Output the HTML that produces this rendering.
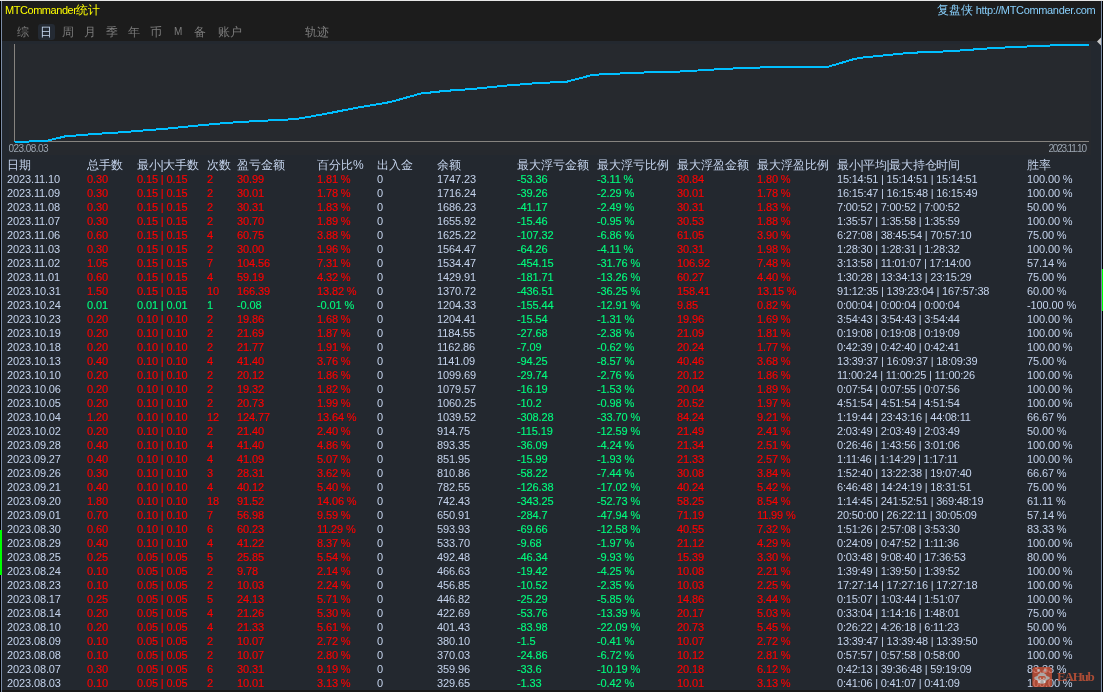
<!DOCTYPE html>
<html><head><meta charset="utf-8"><style>
html,body{margin:0;padding:0;}
body{width:1103px;height:692px;position:relative;overflow:hidden;background:#1b1b1b;font-family:"Liberation Sans",sans-serif;will-change:transform;}
.abs{position:absolute;}
.c{position:absolute;font-size:11px;line-height:14px;white-space:pre;letter-spacing:-0.12px;}
.s{-webkit-text-stroke-width:0.15px}
.t{letter-spacing:-0.2px}
.h{position:absolute;font-size:12px;line-height:14px;white-space:pre;color:#c4d3ec;}
.tab{position:absolute;top:24px;font-size:12px;line-height:16px;color:#7c7c7c;white-space:pre;}
</style></head><body>
<div class="abs" style="left:0;top:0;width:1103px;height:1px;background:#e6e6e6"></div>
<div class="abs" style="left:0;top:1px;width:1px;height:691px;background:#000"></div>
<div class="abs" style="left:1102px;top:1px;width:1px;height:691px;background:#000"></div>
<div class="abs" style="left:1px;top:1px;width:1px;height:691px;background:#7b8ca6"></div>
<div class="abs" style="left:1101px;top:1px;width:1px;height:691px;background:#7b8ca6"></div>
<div class="abs" style="left:2px;top:1px;width:1099px;height:40px;background:#1c1c1c"></div>
<div class="abs" style="left:2px;top:41px;width:1099px;height:649px;background:#23282f"></div>
<div class="abs" style="left:9px;top:44px;width:1082px;height:111px;background:#26292e"></div>
<div class="abs" style="left:2px;top:690px;width:1099px;height:2px;background:#1a1a1a"></div>
<div class="c" style="left:5px;top:3px;color:#ffff00;letter-spacing:-0.45px">MTCommander<span style="font-size:12px;letter-spacing:-0.3px">统计</span></div>
<div class="c" style="left:937px;top:3px;color:#87cefa;font-size:11px;letter-spacing:-0.34px"><span style="font-size:12px;letter-spacing:0">复盘侠</span> http://MTCommander.com</div>
<div class="abs" style="left:38px;top:24px;width:17px;height:16px;background:#242a33;border-radius:3px"></div>
<div class="tab" style="left:17px">综</div>
<div class="tab" style="left:40px;color:#c6d8f0">日</div>
<div class="tab" style="left:62px">周</div>
<div class="tab" style="left:84px">月</div>
<div class="tab" style="left:106px">季</div>
<div class="tab" style="left:128px">年</div>
<div class="tab" style="left:150px">币</div>
<div class="tab" style="left:174px;font-size:10px">M</div>
<div class="tab" style="left:194px">备</div>
<div class="tab" style="left:218px">账户</div>
<div class="tab" style="left:305px">轨迹</div>
<svg class="abs" style="left:0;top:0" width="1103" height="160" viewBox="0 0 1103 160">
<line x1="14.5" y1="44" x2="14.5" y2="141" stroke="#86837f" stroke-width="1"/>
<line x1="14" y1="141.5" x2="1089" y2="141.5" stroke="#86837f" stroke-width="1"/>
<polyline points="14.5,142 29,141.5 47,140.8 65,136.4 94,134 117,132.6 142,130.6 165,128.8 195,125.8 226,123 261,120.7 280.4,120.2 300.8,118.3 328,113.4 355.2,108 390.5,102 420.5,93.6 445,90.9 472,89 504.8,85.7 532,83.5 567.2,81.6 593,74.8 610.7,74 638,72.6 667.8,72.1 689.6,71 725,68.8 754.8,67.7 783.4,66.7 828.3,66.7 855,58.8 863,57.5 910,52.8 951,51.2 992.3,48.1 1044.5,45.7 1074.7,44.6 1089,44.6" fill="none" stroke="#00bfff" stroke-width="2" shape-rendering="crispEdges"/>
<polygon points="1097,41.5 1101,37.5 1101,45.5" fill="#c8c8c8"/>
</svg>
<div class="abs" style="left:9px;top:142px;width:100px;height:13px;overflow:hidden"><div class="c" style="left:-5.5px;top:0;font-size:10px;line-height:13px;letter-spacing:-0.55px;color:#9aa4b0">2023.08.03</div></div>
<div class="c" style="left:1048.5px;top:142px;font-size:10px;line-height:13px;letter-spacing:-1.2px;color:#9aa4b0">2023.11.10</div>
<div class="abs" style="left:0;top:530px;width:2px;height:45px;background:#00ff00"></div>
<div class="abs" style="left:1102px;top:269px;width:1px;height:42px;background:#00ff00"></div>

<div class="h" style="left:7px;top:158px">日期</div><div class="h" style="left:87px;top:158px">总手数</div><div class="h" style="left:137px;top:158px;letter-spacing:-0.3px">最小|大手数</div><div class="h" style="left:207px;top:158px">次数</div><div class="h" style="left:237px;top:158px">盈亏金额</div><div class="h" style="left:317px;top:158px">百分比%</div><div class="h" style="left:377px;top:158px">出入金</div><div class="h" style="left:437px;top:158px">余额</div><div class="h" style="left:517px;top:158px">最大浮亏金额</div><div class="h" style="left:597px;top:158px">最大浮亏比例</div><div class="h" style="left:677px;top:158px">最大浮盈金额</div><div class="h" style="left:757px;top:158px">最大浮盈比例</div><div class="h" style="left:837px;top:158px;letter-spacing:-0.3px">最小|平均|最大持仓时间</div><div class="h" style="left:1027px;top:158px">胜率</div><div class="c" style="left:7px;top:172px;color:#c4d3ec">2023.11.10</div><div class="c s" style="left:87px;top:172px;color:#ff0000">0.30</div><div class="c s" style="left:137px;top:172px;color:#ff0000">0.15 | 0.15</div><div class="c s" style="left:207px;top:172px;color:#ff0000">2</div><div class="c s" style="left:237px;top:172px;color:#ff0000">30.99</div><div class="c s" style="left:317px;top:172px;color:#ff0000">1.81 %</div><div class="c" style="left:377px;top:172px;color:#c4d3ec">0</div><div class="c" style="left:437px;top:172px;color:#c4d3ec">1747.23</div><div class="c s" style="left:517px;top:172px;color:#00fa7d">-53.36</div><div class="c s" style="left:597px;top:172px;color:#00fa7d">-3.11 %</div><div class="c s" style="left:677px;top:172px;color:#ff0000">30.84</div><div class="c s" style="left:757px;top:172px;color:#ff0000">1.80 %</div><div class="c t" style="left:837px;top:172px;color:#c4d3ec">15:14:51 | 15:14:51 | 15:14:51</div><div class="c" style="left:1027px;top:172px;color:#c4d3ec">100.00 %</div><div class="c" style="left:7px;top:186px;color:#c4d3ec">2023.11.09</div><div class="c s" style="left:87px;top:186px;color:#ff0000">0.30</div><div class="c s" style="left:137px;top:186px;color:#ff0000">0.15 | 0.15</div><div class="c s" style="left:207px;top:186px;color:#ff0000">2</div><div class="c s" style="left:237px;top:186px;color:#ff0000">30.01</div><div class="c s" style="left:317px;top:186px;color:#ff0000">1.78 %</div><div class="c" style="left:377px;top:186px;color:#c4d3ec">0</div><div class="c" style="left:437px;top:186px;color:#c4d3ec">1716.24</div><div class="c s" style="left:517px;top:186px;color:#00fa7d">-39.26</div><div class="c s" style="left:597px;top:186px;color:#00fa7d">-2.29 %</div><div class="c s" style="left:677px;top:186px;color:#ff0000">30.01</div><div class="c s" style="left:757px;top:186px;color:#ff0000">1.78 %</div><div class="c t" style="left:837px;top:186px;color:#c4d3ec">16:15:47 | 16:15:48 | 16:15:49</div><div class="c" style="left:1027px;top:186px;color:#c4d3ec">100.00 %</div><div class="c" style="left:7px;top:200px;color:#c4d3ec">2023.11.08</div><div class="c s" style="left:87px;top:200px;color:#ff0000">0.30</div><div class="c s" style="left:137px;top:200px;color:#ff0000">0.15 | 0.15</div><div class="c s" style="left:207px;top:200px;color:#ff0000">2</div><div class="c s" style="left:237px;top:200px;color:#ff0000">30.31</div><div class="c s" style="left:317px;top:200px;color:#ff0000">1.83 %</div><div class="c" style="left:377px;top:200px;color:#c4d3ec">0</div><div class="c" style="left:437px;top:200px;color:#c4d3ec">1686.23</div><div class="c s" style="left:517px;top:200px;color:#00fa7d">-41.17</div><div class="c s" style="left:597px;top:200px;color:#00fa7d">-2.49 %</div><div class="c s" style="left:677px;top:200px;color:#ff0000">30.31</div><div class="c s" style="left:757px;top:200px;color:#ff0000">1.83 %</div><div class="c t" style="left:837px;top:200px;color:#c4d3ec">7:00:52 | 7:00:52 | 7:00:52</div><div class="c" style="left:1027px;top:200px;color:#c4d3ec">50.00 %</div><div class="c" style="left:7px;top:214px;color:#c4d3ec">2023.11.07</div><div class="c s" style="left:87px;top:214px;color:#ff0000">0.30</div><div class="c s" style="left:137px;top:214px;color:#ff0000">0.15 | 0.15</div><div class="c s" style="left:207px;top:214px;color:#ff0000">2</div><div class="c s" style="left:237px;top:214px;color:#ff0000">30.70</div><div class="c s" style="left:317px;top:214px;color:#ff0000">1.89 %</div><div class="c" style="left:377px;top:214px;color:#c4d3ec">0</div><div class="c" style="left:437px;top:214px;color:#c4d3ec">1655.92</div><div class="c s" style="left:517px;top:214px;color:#00fa7d">-15.46</div><div class="c s" style="left:597px;top:214px;color:#00fa7d">-0.95 %</div><div class="c s" style="left:677px;top:214px;color:#ff0000">30.53</div><div class="c s" style="left:757px;top:214px;color:#ff0000">1.88 %</div><div class="c t" style="left:837px;top:214px;color:#c4d3ec">1:35:57 | 1:35:58 | 1:35:59</div><div class="c" style="left:1027px;top:214px;color:#c4d3ec">100.00 %</div><div class="c" style="left:7px;top:228px;color:#c4d3ec">2023.11.06</div><div class="c s" style="left:87px;top:228px;color:#ff0000">0.60</div><div class="c s" style="left:137px;top:228px;color:#ff0000">0.15 | 0.15</div><div class="c s" style="left:207px;top:228px;color:#ff0000">4</div><div class="c s" style="left:237px;top:228px;color:#ff0000">60.75</div><div class="c s" style="left:317px;top:228px;color:#ff0000">3.88 %</div><div class="c" style="left:377px;top:228px;color:#c4d3ec">0</div><div class="c" style="left:437px;top:228px;color:#c4d3ec">1625.22</div><div class="c s" style="left:517px;top:228px;color:#00fa7d">-107.32</div><div class="c s" style="left:597px;top:228px;color:#00fa7d">-6.86 %</div><div class="c s" style="left:677px;top:228px;color:#ff0000">61.05</div><div class="c s" style="left:757px;top:228px;color:#ff0000">3.90 %</div><div class="c t" style="left:837px;top:228px;color:#c4d3ec">6:27:08 | 38:45:54 | 70:57:10</div><div class="c" style="left:1027px;top:228px;color:#c4d3ec">75.00 %</div><div class="c" style="left:7px;top:242px;color:#c4d3ec">2023.11.03</div><div class="c s" style="left:87px;top:242px;color:#ff0000">0.30</div><div class="c s" style="left:137px;top:242px;color:#ff0000">0.15 | 0.15</div><div class="c s" style="left:207px;top:242px;color:#ff0000">2</div><div class="c s" style="left:237px;top:242px;color:#ff0000">30.00</div><div class="c s" style="left:317px;top:242px;color:#ff0000">1.96 %</div><div class="c" style="left:377px;top:242px;color:#c4d3ec">0</div><div class="c" style="left:437px;top:242px;color:#c4d3ec">1564.47</div><div class="c s" style="left:517px;top:242px;color:#00fa7d">-64.26</div><div class="c s" style="left:597px;top:242px;color:#00fa7d">-4.11 %</div><div class="c s" style="left:677px;top:242px;color:#ff0000">30.31</div><div class="c s" style="left:757px;top:242px;color:#ff0000">1.98 %</div><div class="c t" style="left:837px;top:242px;color:#c4d3ec">1:28:30 | 1:28:31 | 1:28:32</div><div class="c" style="left:1027px;top:242px;color:#c4d3ec">100.00 %</div><div class="c" style="left:7px;top:256px;color:#c4d3ec">2023.11.02</div><div class="c s" style="left:87px;top:256px;color:#ff0000">1.05</div><div class="c s" style="left:137px;top:256px;color:#ff0000">0.15 | 0.15</div><div class="c s" style="left:207px;top:256px;color:#ff0000">7</div><div class="c s" style="left:237px;top:256px;color:#ff0000">104.56</div><div class="c s" style="left:317px;top:256px;color:#ff0000">7.31 %</div><div class="c" style="left:377px;top:256px;color:#c4d3ec">0</div><div class="c" style="left:437px;top:256px;color:#c4d3ec">1534.47</div><div class="c s" style="left:517px;top:256px;color:#00fa7d">-454.15</div><div class="c s" style="left:597px;top:256px;color:#00fa7d">-31.76 %</div><div class="c s" style="left:677px;top:256px;color:#ff0000">106.92</div><div class="c s" style="left:757px;top:256px;color:#ff0000">7.48 %</div><div class="c t" style="left:837px;top:256px;color:#c4d3ec">3:13:58 | 11:01:07 | 17:14:00</div><div class="c" style="left:1027px;top:256px;color:#c4d3ec">57.14 %</div><div class="c" style="left:7px;top:270px;color:#c4d3ec">2023.11.01</div><div class="c s" style="left:87px;top:270px;color:#ff0000">0.60</div><div class="c s" style="left:137px;top:270px;color:#ff0000">0.15 | 0.15</div><div class="c s" style="left:207px;top:270px;color:#ff0000">4</div><div class="c s" style="left:237px;top:270px;color:#ff0000">59.19</div><div class="c s" style="left:317px;top:270px;color:#ff0000">4.32 %</div><div class="c" style="left:377px;top:270px;color:#c4d3ec">0</div><div class="c" style="left:437px;top:270px;color:#c4d3ec">1429.91</div><div class="c s" style="left:517px;top:270px;color:#00fa7d">-181.71</div><div class="c s" style="left:597px;top:270px;color:#00fa7d">-13.26 %</div><div class="c s" style="left:677px;top:270px;color:#ff0000">60.27</div><div class="c s" style="left:757px;top:270px;color:#ff0000">4.40 %</div><div class="c t" style="left:837px;top:270px;color:#c4d3ec">1:30:28 | 13:34:13 | 23:15:29</div><div class="c" style="left:1027px;top:270px;color:#c4d3ec">75.00 %</div><div class="c" style="left:7px;top:284px;color:#c4d3ec">2023.10.31</div><div class="c s" style="left:87px;top:284px;color:#ff0000">1.50</div><div class="c s" style="left:137px;top:284px;color:#ff0000">0.15 | 0.15</div><div class="c s" style="left:207px;top:284px;color:#ff0000">10</div><div class="c s" style="left:237px;top:284px;color:#ff0000">166.39</div><div class="c s" style="left:317px;top:284px;color:#ff0000">13.82 %</div><div class="c" style="left:377px;top:284px;color:#c4d3ec">0</div><div class="c" style="left:437px;top:284px;color:#c4d3ec">1370.72</div><div class="c s" style="left:517px;top:284px;color:#00fa7d">-436.51</div><div class="c s" style="left:597px;top:284px;color:#00fa7d">-36.25 %</div><div class="c s" style="left:677px;top:284px;color:#ff0000">158.41</div><div class="c s" style="left:757px;top:284px;color:#ff0000">13.15 %</div><div class="c t" style="left:837px;top:284px;color:#c4d3ec">91:12:35 | 139:23:04 | 167:57:38</div><div class="c" style="left:1027px;top:284px;color:#c4d3ec">60.00 %</div><div class="c" style="left:7px;top:298px;color:#c4d3ec">2023.10.24</div><div class="c s" style="left:87px;top:298px;color:#00fa7d">0.01</div><div class="c s" style="left:137px;top:298px;color:#00fa7d">0.01 | 0.01</div><div class="c s" style="left:207px;top:298px;color:#00fa7d">1</div><div class="c s" style="left:237px;top:298px;color:#00fa7d">-0.08</div><div class="c s" style="left:317px;top:298px;color:#00fa7d">-0.01 %</div><div class="c" style="left:377px;top:298px;color:#c4d3ec">0</div><div class="c" style="left:437px;top:298px;color:#c4d3ec">1204.33</div><div class="c s" style="left:517px;top:298px;color:#00fa7d">-155.44</div><div class="c s" style="left:597px;top:298px;color:#00fa7d">-12.91 %</div><div class="c s" style="left:677px;top:298px;color:#ff0000">9.85</div><div class="c s" style="left:757px;top:298px;color:#ff0000">0.82 %</div><div class="c t" style="left:837px;top:298px;color:#c4d3ec">0:00:04 | 0:00:04 | 0:00:04</div><div class="c" style="left:1027px;top:298px;color:#c4d3ec">-100.00 %</div><div class="c" style="left:7px;top:312px;color:#c4d3ec">2023.10.23</div><div class="c s" style="left:87px;top:312px;color:#ff0000">0.20</div><div class="c s" style="left:137px;top:312px;color:#ff0000">0.10 | 0.10</div><div class="c s" style="left:207px;top:312px;color:#ff0000">2</div><div class="c s" style="left:237px;top:312px;color:#ff0000">19.86</div><div class="c s" style="left:317px;top:312px;color:#ff0000">1.68 %</div><div class="c" style="left:377px;top:312px;color:#c4d3ec">0</div><div class="c" style="left:437px;top:312px;color:#c4d3ec">1204.41</div><div class="c s" style="left:517px;top:312px;color:#00fa7d">-15.54</div><div class="c s" style="left:597px;top:312px;color:#00fa7d">-1.31 %</div><div class="c s" style="left:677px;top:312px;color:#ff0000">19.96</div><div class="c s" style="left:757px;top:312px;color:#ff0000">1.69 %</div><div class="c t" style="left:837px;top:312px;color:#c4d3ec">3:54:43 | 3:54:43 | 3:54:44</div><div class="c" style="left:1027px;top:312px;color:#c4d3ec">100.00 %</div><div class="c" style="left:7px;top:326px;color:#c4d3ec">2023.10.19</div><div class="c s" style="left:87px;top:326px;color:#ff0000">0.20</div><div class="c s" style="left:137px;top:326px;color:#ff0000">0.10 | 0.10</div><div class="c s" style="left:207px;top:326px;color:#ff0000">2</div><div class="c s" style="left:237px;top:326px;color:#ff0000">21.69</div><div class="c s" style="left:317px;top:326px;color:#ff0000">1.87 %</div><div class="c" style="left:377px;top:326px;color:#c4d3ec">0</div><div class="c" style="left:437px;top:326px;color:#c4d3ec">1184.55</div><div class="c s" style="left:517px;top:326px;color:#00fa7d">-27.68</div><div class="c s" style="left:597px;top:326px;color:#00fa7d">-2.38 %</div><div class="c s" style="left:677px;top:326px;color:#ff0000">21.09</div><div class="c s" style="left:757px;top:326px;color:#ff0000">1.81 %</div><div class="c t" style="left:837px;top:326px;color:#c4d3ec">0:19:08 | 0:19:08 | 0:19:09</div><div class="c" style="left:1027px;top:326px;color:#c4d3ec">100.00 %</div><div class="c" style="left:7px;top:340px;color:#c4d3ec">2023.10.18</div><div class="c s" style="left:87px;top:340px;color:#ff0000">0.20</div><div class="c s" style="left:137px;top:340px;color:#ff0000">0.10 | 0.10</div><div class="c s" style="left:207px;top:340px;color:#ff0000">2</div><div class="c s" style="left:237px;top:340px;color:#ff0000">21.77</div><div class="c s" style="left:317px;top:340px;color:#ff0000">1.91 %</div><div class="c" style="left:377px;top:340px;color:#c4d3ec">0</div><div class="c" style="left:437px;top:340px;color:#c4d3ec">1162.86</div><div class="c s" style="left:517px;top:340px;color:#00fa7d">-7.09</div><div class="c s" style="left:597px;top:340px;color:#00fa7d">-0.62 %</div><div class="c s" style="left:677px;top:340px;color:#ff0000">20.24</div><div class="c s" style="left:757px;top:340px;color:#ff0000">1.77 %</div><div class="c t" style="left:837px;top:340px;color:#c4d3ec">0:42:39 | 0:42:40 | 0:42:41</div><div class="c" style="left:1027px;top:340px;color:#c4d3ec">100.00 %</div><div class="c" style="left:7px;top:354px;color:#c4d3ec">2023.10.13</div><div class="c s" style="left:87px;top:354px;color:#ff0000">0.40</div><div class="c s" style="left:137px;top:354px;color:#ff0000">0.10 | 0.10</div><div class="c s" style="left:207px;top:354px;color:#ff0000">4</div><div class="c s" style="left:237px;top:354px;color:#ff0000">41.40</div><div class="c s" style="left:317px;top:354px;color:#ff0000">3.76 %</div><div class="c" style="left:377px;top:354px;color:#c4d3ec">0</div><div class="c" style="left:437px;top:354px;color:#c4d3ec">1141.09</div><div class="c s" style="left:517px;top:354px;color:#00fa7d">-94.25</div><div class="c s" style="left:597px;top:354px;color:#00fa7d">-8.57 %</div><div class="c s" style="left:677px;top:354px;color:#ff0000">40.46</div><div class="c s" style="left:757px;top:354px;color:#ff0000">3.68 %</div><div class="c t" style="left:837px;top:354px;color:#c4d3ec">13:39:37 | 16:09:37 | 18:09:39</div><div class="c" style="left:1027px;top:354px;color:#c4d3ec">75.00 %</div><div class="c" style="left:7px;top:368px;color:#c4d3ec">2023.10.10</div><div class="c s" style="left:87px;top:368px;color:#ff0000">0.20</div><div class="c s" style="left:137px;top:368px;color:#ff0000">0.10 | 0.10</div><div class="c s" style="left:207px;top:368px;color:#ff0000">2</div><div class="c s" style="left:237px;top:368px;color:#ff0000">20.12</div><div class="c s" style="left:317px;top:368px;color:#ff0000">1.86 %</div><div class="c" style="left:377px;top:368px;color:#c4d3ec">0</div><div class="c" style="left:437px;top:368px;color:#c4d3ec">1099.69</div><div class="c s" style="left:517px;top:368px;color:#00fa7d">-29.74</div><div class="c s" style="left:597px;top:368px;color:#00fa7d">-2.76 %</div><div class="c s" style="left:677px;top:368px;color:#ff0000">20.12</div><div class="c s" style="left:757px;top:368px;color:#ff0000">1.86 %</div><div class="c t" style="left:837px;top:368px;color:#c4d3ec">11:00:24 | 11:00:25 | 11:00:26</div><div class="c" style="left:1027px;top:368px;color:#c4d3ec">100.00 %</div><div class="c" style="left:7px;top:382px;color:#c4d3ec">2023.10.06</div><div class="c s" style="left:87px;top:382px;color:#ff0000">0.20</div><div class="c s" style="left:137px;top:382px;color:#ff0000">0.10 | 0.10</div><div class="c s" style="left:207px;top:382px;color:#ff0000">2</div><div class="c s" style="left:237px;top:382px;color:#ff0000">19.32</div><div class="c s" style="left:317px;top:382px;color:#ff0000">1.82 %</div><div class="c" style="left:377px;top:382px;color:#c4d3ec">0</div><div class="c" style="left:437px;top:382px;color:#c4d3ec">1079.57</div><div class="c s" style="left:517px;top:382px;color:#00fa7d">-16.19</div><div class="c s" style="left:597px;top:382px;color:#00fa7d">-1.53 %</div><div class="c s" style="left:677px;top:382px;color:#ff0000">20.04</div><div class="c s" style="left:757px;top:382px;color:#ff0000">1.89 %</div><div class="c t" style="left:837px;top:382px;color:#c4d3ec">0:07:54 | 0:07:55 | 0:07:56</div><div class="c" style="left:1027px;top:382px;color:#c4d3ec">100.00 %</div><div class="c" style="left:7px;top:396px;color:#c4d3ec">2023.10.05</div><div class="c s" style="left:87px;top:396px;color:#ff0000">0.20</div><div class="c s" style="left:137px;top:396px;color:#ff0000">0.10 | 0.10</div><div class="c s" style="left:207px;top:396px;color:#ff0000">2</div><div class="c s" style="left:237px;top:396px;color:#ff0000">20.73</div><div class="c s" style="left:317px;top:396px;color:#ff0000">1.99 %</div><div class="c" style="left:377px;top:396px;color:#c4d3ec">0</div><div class="c" style="left:437px;top:396px;color:#c4d3ec">1060.25</div><div class="c s" style="left:517px;top:396px;color:#00fa7d">-10.2</div><div class="c s" style="left:597px;top:396px;color:#00fa7d">-0.98 %</div><div class="c s" style="left:677px;top:396px;color:#ff0000">20.52</div><div class="c s" style="left:757px;top:396px;color:#ff0000">1.97 %</div><div class="c t" style="left:837px;top:396px;color:#c4d3ec">4:51:54 | 4:51:54 | 4:51:54</div><div class="c" style="left:1027px;top:396px;color:#c4d3ec">100.00 %</div><div class="c" style="left:7px;top:410px;color:#c4d3ec">2023.10.04</div><div class="c s" style="left:87px;top:410px;color:#ff0000">1.20</div><div class="c s" style="left:137px;top:410px;color:#ff0000">0.10 | 0.10</div><div class="c s" style="left:207px;top:410px;color:#ff0000">12</div><div class="c s" style="left:237px;top:410px;color:#ff0000">124.77</div><div class="c s" style="left:317px;top:410px;color:#ff0000">13.64 %</div><div class="c" style="left:377px;top:410px;color:#c4d3ec">0</div><div class="c" style="left:437px;top:410px;color:#c4d3ec">1039.52</div><div class="c s" style="left:517px;top:410px;color:#00fa7d">-308.28</div><div class="c s" style="left:597px;top:410px;color:#00fa7d">-33.70 %</div><div class="c s" style="left:677px;top:410px;color:#ff0000">84.24</div><div class="c s" style="left:757px;top:410px;color:#ff0000">9.21 %</div><div class="c t" style="left:837px;top:410px;color:#c4d3ec">1:19:44 | 23:43:16 | 44:08:11</div><div class="c" style="left:1027px;top:410px;color:#c4d3ec">66.67 %</div><div class="c" style="left:7px;top:424px;color:#c4d3ec">2023.10.02</div><div class="c s" style="left:87px;top:424px;color:#ff0000">0.20</div><div class="c s" style="left:137px;top:424px;color:#ff0000">0.10 | 0.10</div><div class="c s" style="left:207px;top:424px;color:#ff0000">2</div><div class="c s" style="left:237px;top:424px;color:#ff0000">21.40</div><div class="c s" style="left:317px;top:424px;color:#ff0000">2.40 %</div><div class="c" style="left:377px;top:424px;color:#c4d3ec">0</div><div class="c" style="left:437px;top:424px;color:#c4d3ec">914.75</div><div class="c s" style="left:517px;top:424px;color:#00fa7d">-115.19</div><div class="c s" style="left:597px;top:424px;color:#00fa7d">-12.59 %</div><div class="c s" style="left:677px;top:424px;color:#ff0000">21.49</div><div class="c s" style="left:757px;top:424px;color:#ff0000">2.41 %</div><div class="c t" style="left:837px;top:424px;color:#c4d3ec">2:03:49 | 2:03:49 | 2:03:49</div><div class="c" style="left:1027px;top:424px;color:#c4d3ec">50.00 %</div><div class="c" style="left:7px;top:438px;color:#c4d3ec">2023.09.28</div><div class="c s" style="left:87px;top:438px;color:#ff0000">0.40</div><div class="c s" style="left:137px;top:438px;color:#ff0000">0.10 | 0.10</div><div class="c s" style="left:207px;top:438px;color:#ff0000">4</div><div class="c s" style="left:237px;top:438px;color:#ff0000">41.40</div><div class="c s" style="left:317px;top:438px;color:#ff0000">4.86 %</div><div class="c" style="left:377px;top:438px;color:#c4d3ec">0</div><div class="c" style="left:437px;top:438px;color:#c4d3ec">893.35</div><div class="c s" style="left:517px;top:438px;color:#00fa7d">-36.09</div><div class="c s" style="left:597px;top:438px;color:#00fa7d">-4.24 %</div><div class="c s" style="left:677px;top:438px;color:#ff0000">21.34</div><div class="c s" style="left:757px;top:438px;color:#ff0000">2.51 %</div><div class="c t" style="left:837px;top:438px;color:#c4d3ec">0:26:46 | 1:43:56 | 3:01:06</div><div class="c" style="left:1027px;top:438px;color:#c4d3ec">100.00 %</div><div class="c" style="left:7px;top:452px;color:#c4d3ec">2023.09.27</div><div class="c s" style="left:87px;top:452px;color:#ff0000">0.40</div><div class="c s" style="left:137px;top:452px;color:#ff0000">0.10 | 0.10</div><div class="c s" style="left:207px;top:452px;color:#ff0000">4</div><div class="c s" style="left:237px;top:452px;color:#ff0000">41.09</div><div class="c s" style="left:317px;top:452px;color:#ff0000">5.07 %</div><div class="c" style="left:377px;top:452px;color:#c4d3ec">0</div><div class="c" style="left:437px;top:452px;color:#c4d3ec">851.95</div><div class="c s" style="left:517px;top:452px;color:#00fa7d">-15.99</div><div class="c s" style="left:597px;top:452px;color:#00fa7d">-1.93 %</div><div class="c s" style="left:677px;top:452px;color:#ff0000">21.33</div><div class="c s" style="left:757px;top:452px;color:#ff0000">2.57 %</div><div class="c t" style="left:837px;top:452px;color:#c4d3ec">1:11:46 | 1:14:29 | 1:17:11</div><div class="c" style="left:1027px;top:452px;color:#c4d3ec">100.00 %</div><div class="c" style="left:7px;top:466px;color:#c4d3ec">2023.09.26</div><div class="c s" style="left:87px;top:466px;color:#ff0000">0.30</div><div class="c s" style="left:137px;top:466px;color:#ff0000">0.10 | 0.10</div><div class="c s" style="left:207px;top:466px;color:#ff0000">3</div><div class="c s" style="left:237px;top:466px;color:#ff0000">28.31</div><div class="c s" style="left:317px;top:466px;color:#ff0000">3.62 %</div><div class="c" style="left:377px;top:466px;color:#c4d3ec">0</div><div class="c" style="left:437px;top:466px;color:#c4d3ec">810.86</div><div class="c s" style="left:517px;top:466px;color:#00fa7d">-58.22</div><div class="c s" style="left:597px;top:466px;color:#00fa7d">-7.44 %</div><div class="c s" style="left:677px;top:466px;color:#ff0000">30.08</div><div class="c s" style="left:757px;top:466px;color:#ff0000">3.84 %</div><div class="c t" style="left:837px;top:466px;color:#c4d3ec">1:52:40 | 13:22:38 | 19:07:40</div><div class="c" style="left:1027px;top:466px;color:#c4d3ec">66.67 %</div><div class="c" style="left:7px;top:480px;color:#c4d3ec">2023.09.21</div><div class="c s" style="left:87px;top:480px;color:#ff0000">0.40</div><div class="c s" style="left:137px;top:480px;color:#ff0000">0.10 | 0.10</div><div class="c s" style="left:207px;top:480px;color:#ff0000">4</div><div class="c s" style="left:237px;top:480px;color:#ff0000">40.12</div><div class="c s" style="left:317px;top:480px;color:#ff0000">5.40 %</div><div class="c" style="left:377px;top:480px;color:#c4d3ec">0</div><div class="c" style="left:437px;top:480px;color:#c4d3ec">782.55</div><div class="c s" style="left:517px;top:480px;color:#00fa7d">-126.38</div><div class="c s" style="left:597px;top:480px;color:#00fa7d">-17.02 %</div><div class="c s" style="left:677px;top:480px;color:#ff0000">40.24</div><div class="c s" style="left:757px;top:480px;color:#ff0000">5.42 %</div><div class="c t" style="left:837px;top:480px;color:#c4d3ec">6:46:48 | 14:24:19 | 18:31:51</div><div class="c" style="left:1027px;top:480px;color:#c4d3ec">75.00 %</div><div class="c" style="left:7px;top:494px;color:#c4d3ec">2023.09.20</div><div class="c s" style="left:87px;top:494px;color:#ff0000">1.80</div><div class="c s" style="left:137px;top:494px;color:#ff0000">0.10 | 0.10</div><div class="c s" style="left:207px;top:494px;color:#ff0000">18</div><div class="c s" style="left:237px;top:494px;color:#ff0000">91.52</div><div class="c s" style="left:317px;top:494px;color:#ff0000">14.06 %</div><div class="c" style="left:377px;top:494px;color:#c4d3ec">0</div><div class="c" style="left:437px;top:494px;color:#c4d3ec">742.43</div><div class="c s" style="left:517px;top:494px;color:#00fa7d">-343.25</div><div class="c s" style="left:597px;top:494px;color:#00fa7d">-52.73 %</div><div class="c s" style="left:677px;top:494px;color:#ff0000">58.25</div><div class="c s" style="left:757px;top:494px;color:#ff0000">8.54 %</div><div class="c t" style="left:837px;top:494px;color:#c4d3ec">1:14:45 | 241:52:51 | 369:48:19</div><div class="c" style="left:1027px;top:494px;color:#c4d3ec">61.11 %</div><div class="c" style="left:7px;top:508px;color:#c4d3ec">2023.09.01</div><div class="c s" style="left:87px;top:508px;color:#ff0000">0.70</div><div class="c s" style="left:137px;top:508px;color:#ff0000">0.10 | 0.10</div><div class="c s" style="left:207px;top:508px;color:#ff0000">7</div><div class="c s" style="left:237px;top:508px;color:#ff0000">56.98</div><div class="c s" style="left:317px;top:508px;color:#ff0000">9.59 %</div><div class="c" style="left:377px;top:508px;color:#c4d3ec">0</div><div class="c" style="left:437px;top:508px;color:#c4d3ec">650.91</div><div class="c s" style="left:517px;top:508px;color:#00fa7d">-284.7</div><div class="c s" style="left:597px;top:508px;color:#00fa7d">-47.94 %</div><div class="c s" style="left:677px;top:508px;color:#ff0000">71.19</div><div class="c s" style="left:757px;top:508px;color:#ff0000">11.99 %</div><div class="c t" style="left:837px;top:508px;color:#c4d3ec">20:50:00 | 26:22:11 | 30:05:09</div><div class="c" style="left:1027px;top:508px;color:#c4d3ec">57.14 %</div><div class="c" style="left:7px;top:522px;color:#c4d3ec">2023.08.30</div><div class="c s" style="left:87px;top:522px;color:#ff0000">0.60</div><div class="c s" style="left:137px;top:522px;color:#ff0000">0.10 | 0.10</div><div class="c s" style="left:207px;top:522px;color:#ff0000">6</div><div class="c s" style="left:237px;top:522px;color:#ff0000">60.23</div><div class="c s" style="left:317px;top:522px;color:#ff0000">11.29 %</div><div class="c" style="left:377px;top:522px;color:#c4d3ec">0</div><div class="c" style="left:437px;top:522px;color:#c4d3ec">593.93</div><div class="c s" style="left:517px;top:522px;color:#00fa7d">-69.66</div><div class="c s" style="left:597px;top:522px;color:#00fa7d">-12.58 %</div><div class="c s" style="left:677px;top:522px;color:#ff0000">40.55</div><div class="c s" style="left:757px;top:522px;color:#ff0000">7.32 %</div><div class="c t" style="left:837px;top:522px;color:#c4d3ec">1:51:26 | 2:57:08 | 3:53:30</div><div class="c" style="left:1027px;top:522px;color:#c4d3ec">83.33 %</div><div class="c" style="left:7px;top:536px;color:#c4d3ec">2023.08.29</div><div class="c s" style="left:87px;top:536px;color:#ff0000">0.40</div><div class="c s" style="left:137px;top:536px;color:#ff0000">0.10 | 0.10</div><div class="c s" style="left:207px;top:536px;color:#ff0000">4</div><div class="c s" style="left:237px;top:536px;color:#ff0000">41.22</div><div class="c s" style="left:317px;top:536px;color:#ff0000">8.37 %</div><div class="c" style="left:377px;top:536px;color:#c4d3ec">0</div><div class="c" style="left:437px;top:536px;color:#c4d3ec">533.70</div><div class="c s" style="left:517px;top:536px;color:#00fa7d">-9.68</div><div class="c s" style="left:597px;top:536px;color:#00fa7d">-1.97 %</div><div class="c s" style="left:677px;top:536px;color:#ff0000">21.12</div><div class="c s" style="left:757px;top:536px;color:#ff0000">4.29 %</div><div class="c t" style="left:837px;top:536px;color:#c4d3ec">0:24:09 | 0:47:52 | 1:11:36</div><div class="c" style="left:1027px;top:536px;color:#c4d3ec">100.00 %</div><div class="c" style="left:7px;top:550px;color:#c4d3ec">2023.08.25</div><div class="c s" style="left:87px;top:550px;color:#ff0000">0.25</div><div class="c s" style="left:137px;top:550px;color:#ff0000">0.05 | 0.05</div><div class="c s" style="left:207px;top:550px;color:#ff0000">5</div><div class="c s" style="left:237px;top:550px;color:#ff0000">25.85</div><div class="c s" style="left:317px;top:550px;color:#ff0000">5.54 %</div><div class="c" style="left:377px;top:550px;color:#c4d3ec">0</div><div class="c" style="left:437px;top:550px;color:#c4d3ec">492.48</div><div class="c s" style="left:517px;top:550px;color:#00fa7d">-46.34</div><div class="c s" style="left:597px;top:550px;color:#00fa7d">-9.93 %</div><div class="c s" style="left:677px;top:550px;color:#ff0000">15.39</div><div class="c s" style="left:757px;top:550px;color:#ff0000">3.30 %</div><div class="c t" style="left:837px;top:550px;color:#c4d3ec">0:03:48 | 9:08:40 | 17:36:53</div><div class="c" style="left:1027px;top:550px;color:#c4d3ec">80.00 %</div><div class="c" style="left:7px;top:564px;color:#c4d3ec">2023.08.24</div><div class="c s" style="left:87px;top:564px;color:#ff0000">0.10</div><div class="c s" style="left:137px;top:564px;color:#ff0000">0.05 | 0.05</div><div class="c s" style="left:207px;top:564px;color:#ff0000">2</div><div class="c s" style="left:237px;top:564px;color:#ff0000">9.78</div><div class="c s" style="left:317px;top:564px;color:#ff0000">2.14 %</div><div class="c" style="left:377px;top:564px;color:#c4d3ec">0</div><div class="c" style="left:437px;top:564px;color:#c4d3ec">466.63</div><div class="c s" style="left:517px;top:564px;color:#00fa7d">-19.42</div><div class="c s" style="left:597px;top:564px;color:#00fa7d">-4.25 %</div><div class="c s" style="left:677px;top:564px;color:#ff0000">10.08</div><div class="c s" style="left:757px;top:564px;color:#ff0000">2.21 %</div><div class="c t" style="left:837px;top:564px;color:#c4d3ec">1:39:49 | 1:39:50 | 1:39:52</div><div class="c" style="left:1027px;top:564px;color:#c4d3ec">100.00 %</div><div class="c" style="left:7px;top:578px;color:#c4d3ec">2023.08.23</div><div class="c s" style="left:87px;top:578px;color:#ff0000">0.10</div><div class="c s" style="left:137px;top:578px;color:#ff0000">0.05 | 0.05</div><div class="c s" style="left:207px;top:578px;color:#ff0000">2</div><div class="c s" style="left:237px;top:578px;color:#ff0000">10.03</div><div class="c s" style="left:317px;top:578px;color:#ff0000">2.24 %</div><div class="c" style="left:377px;top:578px;color:#c4d3ec">0</div><div class="c" style="left:437px;top:578px;color:#c4d3ec">456.85</div><div class="c s" style="left:517px;top:578px;color:#00fa7d">-10.52</div><div class="c s" style="left:597px;top:578px;color:#00fa7d">-2.35 %</div><div class="c s" style="left:677px;top:578px;color:#ff0000">10.03</div><div class="c s" style="left:757px;top:578px;color:#ff0000">2.25 %</div><div class="c t" style="left:837px;top:578px;color:#c4d3ec">17:27:14 | 17:27:16 | 17:27:18</div><div class="c" style="left:1027px;top:578px;color:#c4d3ec">100.00 %</div><div class="c" style="left:7px;top:592px;color:#c4d3ec">2023.08.17</div><div class="c s" style="left:87px;top:592px;color:#ff0000">0.25</div><div class="c s" style="left:137px;top:592px;color:#ff0000">0.05 | 0.05</div><div class="c s" style="left:207px;top:592px;color:#ff0000">5</div><div class="c s" style="left:237px;top:592px;color:#ff0000">24.13</div><div class="c s" style="left:317px;top:592px;color:#ff0000">5.71 %</div><div class="c" style="left:377px;top:592px;color:#c4d3ec">0</div><div class="c" style="left:437px;top:592px;color:#c4d3ec">446.82</div><div class="c s" style="left:517px;top:592px;color:#00fa7d">-25.29</div><div class="c s" style="left:597px;top:592px;color:#00fa7d">-5.85 %</div><div class="c s" style="left:677px;top:592px;color:#ff0000">14.86</div><div class="c s" style="left:757px;top:592px;color:#ff0000">3.44 %</div><div class="c t" style="left:837px;top:592px;color:#c4d3ec">0:15:07 | 1:03:44 | 1:51:07</div><div class="c" style="left:1027px;top:592px;color:#c4d3ec">100.00 %</div><div class="c" style="left:7px;top:606px;color:#c4d3ec">2023.08.14</div><div class="c s" style="left:87px;top:606px;color:#ff0000">0.20</div><div class="c s" style="left:137px;top:606px;color:#ff0000">0.05 | 0.05</div><div class="c s" style="left:207px;top:606px;color:#ff0000">4</div><div class="c s" style="left:237px;top:606px;color:#ff0000">21.26</div><div class="c s" style="left:317px;top:606px;color:#ff0000">5.30 %</div><div class="c" style="left:377px;top:606px;color:#c4d3ec">0</div><div class="c" style="left:437px;top:606px;color:#c4d3ec">422.69</div><div class="c s" style="left:517px;top:606px;color:#00fa7d">-53.76</div><div class="c s" style="left:597px;top:606px;color:#00fa7d">-13.39 %</div><div class="c s" style="left:677px;top:606px;color:#ff0000">20.17</div><div class="c s" style="left:757px;top:606px;color:#ff0000">5.03 %</div><div class="c t" style="left:837px;top:606px;color:#c4d3ec">0:33:04 | 1:14:16 | 1:48:01</div><div class="c" style="left:1027px;top:606px;color:#c4d3ec">75.00 %</div><div class="c" style="left:7px;top:620px;color:#c4d3ec">2023.08.10</div><div class="c s" style="left:87px;top:620px;color:#ff0000">0.20</div><div class="c s" style="left:137px;top:620px;color:#ff0000">0.05 | 0.05</div><div class="c s" style="left:207px;top:620px;color:#ff0000">4</div><div class="c s" style="left:237px;top:620px;color:#ff0000">21.33</div><div class="c s" style="left:317px;top:620px;color:#ff0000">5.61 %</div><div class="c" style="left:377px;top:620px;color:#c4d3ec">0</div><div class="c" style="left:437px;top:620px;color:#c4d3ec">401.43</div><div class="c s" style="left:517px;top:620px;color:#00fa7d">-83.98</div><div class="c s" style="left:597px;top:620px;color:#00fa7d">-22.09 %</div><div class="c s" style="left:677px;top:620px;color:#ff0000">20.73</div><div class="c s" style="left:757px;top:620px;color:#ff0000">5.45 %</div><div class="c t" style="left:837px;top:620px;color:#c4d3ec">0:26:22 | 4:26:18 | 6:11:23</div><div class="c" style="left:1027px;top:620px;color:#c4d3ec">50.00 %</div><div class="c" style="left:7px;top:634px;color:#c4d3ec">2023.08.09</div><div class="c s" style="left:87px;top:634px;color:#ff0000">0.10</div><div class="c s" style="left:137px;top:634px;color:#ff0000">0.05 | 0.05</div><div class="c s" style="left:207px;top:634px;color:#ff0000">2</div><div class="c s" style="left:237px;top:634px;color:#ff0000">10.07</div><div class="c s" style="left:317px;top:634px;color:#ff0000">2.72 %</div><div class="c" style="left:377px;top:634px;color:#c4d3ec">0</div><div class="c" style="left:437px;top:634px;color:#c4d3ec">380.10</div><div class="c s" style="left:517px;top:634px;color:#00fa7d">-1.5</div><div class="c s" style="left:597px;top:634px;color:#00fa7d">-0.41 %</div><div class="c s" style="left:677px;top:634px;color:#ff0000">10.07</div><div class="c s" style="left:757px;top:634px;color:#ff0000">2.72 %</div><div class="c t" style="left:837px;top:634px;color:#c4d3ec">13:39:47 | 13:39:48 | 13:39:50</div><div class="c" style="left:1027px;top:634px;color:#c4d3ec">100.00 %</div><div class="c" style="left:7px;top:648px;color:#c4d3ec">2023.08.08</div><div class="c s" style="left:87px;top:648px;color:#ff0000">0.10</div><div class="c s" style="left:137px;top:648px;color:#ff0000">0.05 | 0.05</div><div class="c s" style="left:207px;top:648px;color:#ff0000">2</div><div class="c s" style="left:237px;top:648px;color:#ff0000">10.07</div><div class="c s" style="left:317px;top:648px;color:#ff0000">2.80 %</div><div class="c" style="left:377px;top:648px;color:#c4d3ec">0</div><div class="c" style="left:437px;top:648px;color:#c4d3ec">370.03</div><div class="c s" style="left:517px;top:648px;color:#00fa7d">-24.86</div><div class="c s" style="left:597px;top:648px;color:#00fa7d">-6.72 %</div><div class="c s" style="left:677px;top:648px;color:#ff0000">10.12</div><div class="c s" style="left:757px;top:648px;color:#ff0000">2.81 %</div><div class="c t" style="left:837px;top:648px;color:#c4d3ec">0:57:57 | 0:57:58 | 0:58:00</div><div class="c" style="left:1027px;top:648px;color:#c4d3ec">100.00 %</div><div class="c" style="left:7px;top:662px;color:#c4d3ec">2023.08.07</div><div class="c s" style="left:87px;top:662px;color:#ff0000">0.30</div><div class="c s" style="left:137px;top:662px;color:#ff0000">0.05 | 0.05</div><div class="c s" style="left:207px;top:662px;color:#ff0000">6</div><div class="c s" style="left:237px;top:662px;color:#ff0000">30.31</div><div class="c s" style="left:317px;top:662px;color:#ff0000">9.19 %</div><div class="c" style="left:377px;top:662px;color:#c4d3ec">0</div><div class="c" style="left:437px;top:662px;color:#c4d3ec">359.96</div><div class="c s" style="left:517px;top:662px;color:#00fa7d">-33.6</div><div class="c s" style="left:597px;top:662px;color:#00fa7d">-10.19 %</div><div class="c s" style="left:677px;top:662px;color:#ff0000">20.18</div><div class="c s" style="left:757px;top:662px;color:#ff0000">6.12 %</div><div class="c t" style="left:837px;top:662px;color:#c4d3ec">0:42:13 | 39:36:48 | 59:19:09</div><div class="c" style="left:1027px;top:662px;color:#c4d3ec">83.33 %</div><div class="c" style="left:7px;top:676px;color:#c4d3ec">2023.08.03</div><div class="c s" style="left:87px;top:676px;color:#ff0000">0.10</div><div class="c s" style="left:137px;top:676px;color:#ff0000">0.05 | 0.05</div><div class="c s" style="left:207px;top:676px;color:#ff0000">2</div><div class="c s" style="left:237px;top:676px;color:#ff0000">10.01</div><div class="c s" style="left:317px;top:676px;color:#ff0000">3.13 %</div><div class="c" style="left:377px;top:676px;color:#c4d3ec">0</div><div class="c" style="left:437px;top:676px;color:#c4d3ec">329.65</div><div class="c s" style="left:517px;top:676px;color:#00fa7d">-1.33</div><div class="c s" style="left:597px;top:676px;color:#00fa7d">-0.42 %</div><div class="c s" style="left:677px;top:676px;color:#ff0000">10.01</div><div class="c s" style="left:757px;top:676px;color:#ff0000">3.13 %</div><div class="c t" style="left:837px;top:676px;color:#c4d3ec">0:41:06 | 0:41:07 | 0:41:09</div><div class="c" style="left:1027px;top:676px;color:#c4d3ec">100.00 %</div>
<svg class="abs" style="left:1032px;top:667px;opacity:0.82" width="20" height="20" viewBox="0 0 20 20">
<rect x="0.3" y="0" width="19.7" height="20" rx="2.8" fill="rgba(216,86,56,0.9)"/>
<circle cx="6.7" cy="3.5" r="1.4" fill="rgba(215,212,210,0.85)"/><circle cx="13" cy="3.5" r="1.4" fill="rgba(215,212,210,0.85)"/>
<ellipse cx="10" cy="11.2" rx="5" ry="5.6" fill="rgba(205,203,200,0.92)"/>
<ellipse cx="10" cy="11" rx="7.9" ry="2.4" fill="rgba(205,203,200,0.92)"/>
<rect x="6.1" y="9" width="7.7" height="3.6" rx="1.8" fill="rgba(216,86,56,0.95)"/>
<circle cx="8.3" cy="11.2" r="0.8" fill="#e8e0d8"/><circle cx="11.9" cy="11.2" r="0.8" fill="#e8e0d8"/>
<rect x="6.3" y="13.4" width="1.4" height="2.6" fill="rgba(245,240,235,0.9)"/><rect x="12" y="13.4" width="1.4" height="2.6" fill="rgba(245,240,235,0.9)"/>
</svg>
<div class="abs" style="left:1057px;top:669px;font-family:'Liberation Serif',serif;font-weight:bold;font-size:13px;line-height:16px;letter-spacing:-1.2px;opacity:0.9;color:rgba(205,85,55,0.9);white-space:pre">EAHub</div>
</body></html>
